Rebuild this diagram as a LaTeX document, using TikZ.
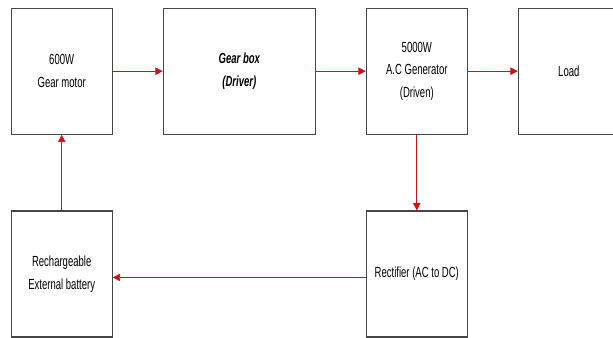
\documentclass[tikz,border=0pt]{standalone}
\usepackage{fontspec}
\setmainfont{Liberation Sans}[FakeStretch=0.65]
\usepackage{xcolor}
\usetikzlibrary{arrows.meta}

\definecolor{flowred}{RGB}{200,20,20}
\definecolor{boxgray}{RGB}{70,70,70}

\tikzset{
  blockbox/.style={draw=boxgray, line width=0.8pt, fill=white, inner sep=0.75pt,
    minimum width=75.75pt, minimum height=94.5pt, align=center,
    font=\fontsize{11}{17}\selectfont},
  flow/.style={draw=flowred, line width=0.6pt, -{Triangle[length=5.5pt,width=5.5pt]}}
}

\begin{document}
\begin{tikzpicture}[x=0.75pt,y=0.75pt,yscale=-1,xscale=1]

\useasboundingbox (0,0) rectangle (613,338);
\clip (0,0) rectangle (613,338);

% top row
\node (motor) [blockbox] at (61.7,71.2) {600W\\Gear motor};

\node (gearbox) [blockbox, minimum width=114pt] at (239.3,71.2) {\bfseries\itshape Gear box\\\bfseries\itshape (Driver)};

\node (gen) [blockbox] at (416.8,71.2) {5000W\\A.C Generator\\(Driven)};

\node (load) [blockbox] at (568.8,71.2) {Load};

% bottom row
\node (bat) [blockbox] at (61.7,274) {Rechargeable\\External battery};

\node (rect) [blockbox] at (416.8,274) {Rectifier (AC to DC)};

% connectors
\draw [flow] (motor.east) -- (gearbox.west);
\draw [flow] (gearbox.east) -- (gen.west);
\draw [flow] (gen.east) -- (load.west);
\draw [flow] (gen.south) -- (rect.north);
\draw [flow] ([yshift=2.6pt]rect.west) -- ([yshift=2.6pt]bat.east);
\draw [flow] (bat.north) -- (motor.south);

\end{tikzpicture}
\end{document}
